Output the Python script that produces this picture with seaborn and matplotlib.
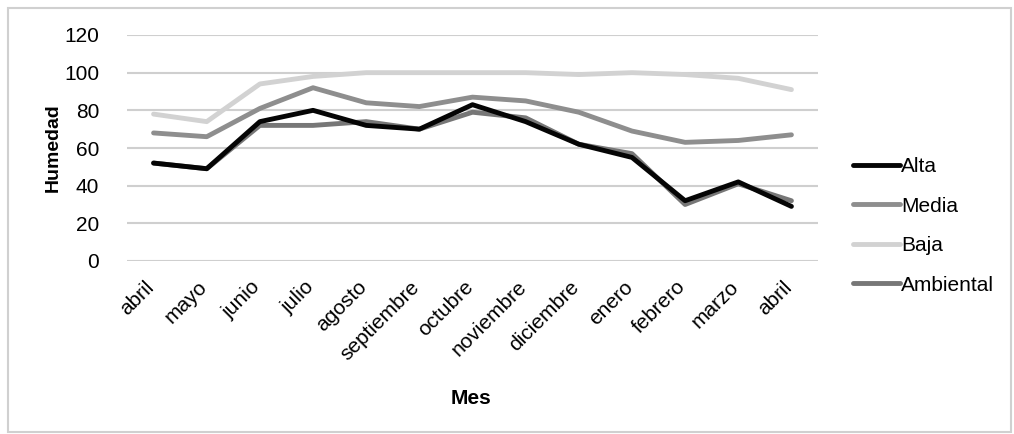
import numpy as np
import pandas as pd
import matplotlib
matplotlib.use("Agg")
import matplotlib.pyplot as plt
import matplotlib.transforms as mtransforms
import seaborn as sns
from matplotlib.patches import Rectangle

meses = ['abril', 'mayo', 'junio', 'julio', 'agosto', 'septiembre', 'octubre',
         'noviembre', 'diciembre', 'enero', 'febrero', 'marzo', 'abril ']
alta = [52, 49, 74, 80, 72, 70, 83, 74, 62, 55, 32, 42, 29]
media = [68, 66, 81, 92, 84, 82, 87, 85, 79, 69, 63, 64, 67]
baja = [78, 74, 94, 98, 100, 100, 100, 100, 99, 100, 99, 97, 91]
ambiental = [52, 49, 72, 72, 74, 70, 79, 76, 62, 57, 30, 41, 32]

series = {'Alta': alta, 'Media': media, 'Baja': baja, 'Ambiental': ambiental}
colors = {'Alta': '#050505', 'Media': '#8e8e8e', 'Baja': '#d2d2d2', 'Ambiental': '#777777'}

df = pd.DataFrame(series, index=meses)
df['Mes'] = meses
long_df = df.melt(id_vars='Mes', var_name='serie', value_name='Humedad')

sns.set_theme(style="white")
plt.rcParams['font.family'] = ['Liberation Sans', 'DejaVu Sans']
plt.rcParams['text.color'] = 'black'
plt.rcParams['xtick.color'] = 'black'
plt.rcParams['ytick.color'] = 'black'
plt.rcParams['axes.labelcolor'] = 'black'

fig = plt.figure(figsize=(10.14, 4.34), dpi=100)
ax = fig.add_axes([127 / 1014, 1 - 261 / 434, (818 - 127) / 1014, (261 - 35) / 434])

x = np.arange(len(meses))
for name in ['Baja', 'Media', 'Ambiental', 'Alta']:
    sub = long_df[long_df['serie'] == name]
    sns.lineplot(x=x, y=sub['Humedad'].values, ax=ax, color=colors[name],
                 lw=3.5, label=name)

ax.set_xlim(-0.5, len(meses) - 0.5)
ax.set_ylim(0, 120)
ax.set_yticks(range(0, 121, 20))
ax.set_xticks(x)
ax.tick_params(axis='y', labelsize=15, length=0, pad=20)
ax.tick_params(axis='x', length=0, pad=3)
ax.set_xticklabels([m.strip() for m in meses], rotation=45, ha='right',
                   rotation_mode='anchor', fontsize=15)
# shift the rotated labels a bit down-left, like the original
shift = mtransforms.ScaledTranslation(-9 / 100, -12 / 100, fig.dpi_scale_trans)
for lab in ax.get_xticklabels():
    lab.set_transform(lab.get_transform() + shift)
ax.yaxis.grid(True, color='#cfcfcf', lw=1.5)
ax.set_axisbelow(True)
for s in ax.spines.values():
    s.set_visible(False)

ax.set_ylabel('Humedad', fontsize=14, fontweight='bold')
ax.yaxis.set_label_coords(-(127 - 62) / (818 - 127), 0.5)
ax.set_xlabel('Mes', fontsize=15, fontweight='bold')
ax.xaxis.set_label_coords((471 - 127) / (818 - 127), -(389 - 261) / (261 - 35))

handles, labels = ax.get_legend_handles_labels()
order = ['Alta', 'Media', 'Baja', 'Ambiental']
hmap = dict(zip(labels, handles))
ax.legend([hmap[k] for k in order], order, loc='upper left',
          bbox_to_anchor=(845 / 1014, 1 - 149 / 434), bbox_transform=fig.transFigure,
          frameon=False, fontsize=15, handlelength=2.25, handletextpad=0.05,
          labelspacing=0.98, borderaxespad=0)

fig.patches.append(Rectangle((8 / 1014, 2 / 434), 1003 / 1014, 424 / 434,
                             transform=fig.transFigure, fill=False,
                             edgecolor='#d0d0d0', lw=1.5))

fig.savefig('out.png', dpi=100)
